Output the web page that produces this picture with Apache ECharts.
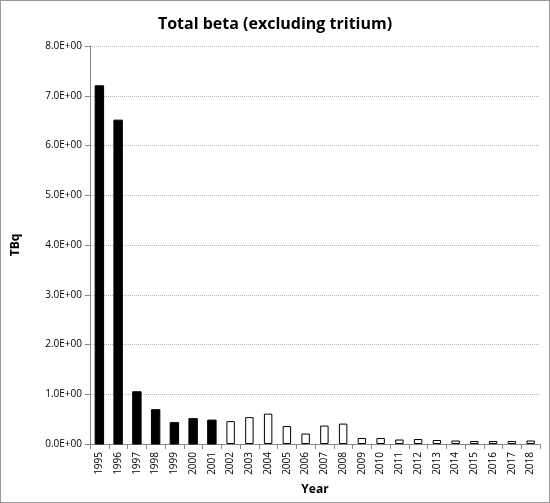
<!DOCTYPE html><html><head><meta charset="utf-8"><script src="https://cdn.jsdelivr.net/npm/echarts@6/dist/echarts.min.js"></script>
<style>html,body{margin:0;padding:0;background:#fff}#c{width:548px;height:501px;border:1px solid #999}</style></head><body><div id="c"></div><script>
const years=['1995','1996','1997','1998','1999','2000','2001','2002','2003','2004','2005','2006','2007','2008','2009','2010','2011','2012','2013','2014','2015','2016','2017','2018'];
const values=[7.2,6.51,1.05,0.69,0.43,0.51,0.48,0.46,0.54,0.61,0.36,0.21,0.37,0.41,0.12,0.12,0.09,0.10,0.08,0.07,0.06,0.06,0.06,0.07];
const filledUntil='2001';
const yTicks=[0,1,2,3,4,5,6,7,8];
const chart=echarts.init(document.getElementById('c'));
const fi=years.indexOf(filledUntil);
chart.setOption({
 animation:false,
 title:{text:'Total beta (excluding tritium)',left:'center',top:10,textStyle:{fontFamily:'Open Sans',fontSize:16,fontWeight:'bold',color:'#000'}},
 grid:{left:89,right:9,top:45,bottom:58},
 xAxis:{type:'category',data:years,name:'Year',nameLocation:'middle',nameGap:40,nameTextStyle:{fontFamily:'Open Sans',fontWeight:'bold',fontSize:12,color:'#000'},
  axisLine:{lineStyle:{color:'#888'}},axisTick:{show:true,interval:0,lineStyle:{color:'#888'}},
  axisLabel:{rotate:90,interval:0,fontFamily:'Open Sans',fontSize:10,color:'#000'}},
 yAxis:{type:'value',min:0,max:8,interval:1,name:'TBq',nameLocation:'middle',nameGap:68,nameTextStyle:{fontFamily:'Open Sans',fontWeight:'bold',fontSize:12,color:'#000'},
  axisLine:{show:true,lineStyle:{color:'#888'}},axisTick:{show:true,lineStyle:{color:'#888'}},
  splitLine:{lineStyle:{type:'dotted',color:'#bbb'}},
  axisLabel:{fontFamily:'Open Sans',fontSize:10,color:'#000',formatter:v=>v.toFixed(1)+'E+00'}},
 series:[{type:'bar',barWidth:'45%',data:values.map((v,i)=>({value:v,itemStyle:i<=fi?{color:'#000',borderColor:'#000'}:{color:'#fff',borderColor:'#000',borderWidth:1}}))}]
});
</script></body></html>
